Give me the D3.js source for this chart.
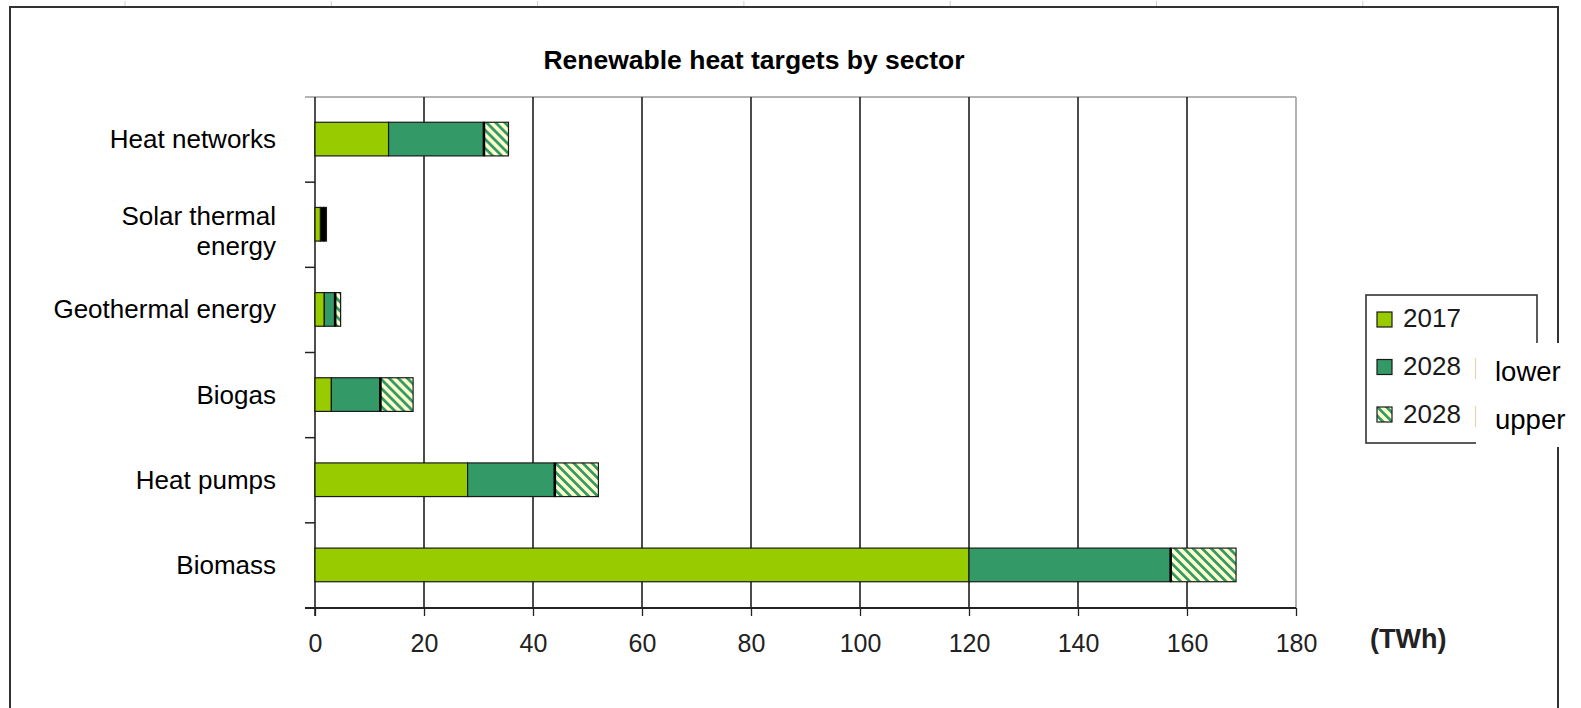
<!DOCTYPE html>
<html>
<head>
<meta charset="utf-8">
<script src="https://cdn.jsdelivr.net/npm/d3@7"></script>
<style>
  body { margin: 0; background: #fff; }
  svg { display: block; font-family: "Liberation Sans", Arial, sans-serif; }
</style>
</head>
<body>
<script>
// ----- data (cumulative TWh) -----
const categories = ["Heat networks", "Solar thermal energy", "Geothermal energy", "Biogas", "Heat pumps", "Biomass"];
const labelLines = [["Heat networks"], ["Solar thermal", "energy"], ["Geothermal energy"], ["Biogas"], ["Heat pumps"], ["Biomass"]];
const val2017 = [13.5, 1.0, 1.7, 3, 28, 120];
const val2028Lower = [31, 1.6, 3.7, 12, 44, 157];
const val2028Upper = [35.5, 2.1, 4.7, 18, 52, 169];
const xTicks = [0, 20, 40, 60, 80, 100, 120, 140, 160, 180];
const legendLabels = ["2017", "2028", "2028"];
const legendTails = ["", "lower", "upper"];

const W = 1581, H = 708;
const plotTop = 97, plotBottom = 608, plotLeft = 315, plotRight = 1296;

const svg = d3.select("body").append("svg")
    .attr("width", W).attr("height", H);

// hatch pattern for the 2028 upper segment
const defs = svg.append("defs");
const pat = defs.append("pattern")
    .attr("id", "hatch")
    .attr("patternUnits", "userSpaceOnUse")
    .attr("width", 6.4).attr("height", 6.4)
    .attr("patternTransform", "rotate(-45)");
pat.append("rect").attr("width", 6.4).attr("height", 6.4).attr("fill", "#ffffcc");
pat.append("rect").attr("width", 2.8).attr("height", 6.4).attr("fill", "#339966");

// outer frame
svg.append("rect")
    .attr("x", 10).attr("y", 7)
    .attr("width", 1548).attr("height", 720)
    .attr("fill", "none").attr("stroke", "#333").attr("stroke-width", 2);
svg.selectAll(".topMark")
    .data(d3.range(7).map(i => 125 + i * 206.3))
    .enter().append("line")
    .attr("x1", d => d).attr("x2", d => d)
    .attr("y1", 1).attr("y2", 6)
    .attr("stroke", "#d0d0d0").attr("stroke-width", 1);

// scales
const x = d3.scaleLinear().domain([0, 180]).range([plotLeft, plotRight]);
const y = d3.scaleBand().domain(categories).range([plotTop, plotBottom]).padding(0);
const barH = y.bandwidth() * 0.395;

// title
svg.append("text")
    .attr("x", 754).attr("y", 69)
    .attr("text-anchor", "middle")
    .attr("font-size", 26.5).attr("font-weight", "bold")
    .text("Renewable heat targets by sector");

// plot border (top) grey
svg.append("line")
    .attr("x1", plotLeft - 10).attr("x2", plotRight)
    .attr("y1", plotTop).attr("y2", plotTop)
    .attr("stroke", "#9a9a9a").attr("stroke-width", 1.5);

// gridlines
svg.selectAll(".grid")
    .data(xTicks.slice(1))
    .enter().append("line")
    .attr("class", "grid")
    .attr("x1", d => x(d)).attr("x2", d => x(d))
    .attr("y1", plotTop).attr("y2", plotBottom)
    .attr("stroke", d => d === 180 ? "#9a9a9a" : "#111")
    .attr("stroke-width", 1.5);

// bottom axis with ticks and labels
const xAxis = svg.append("g")
    .attr("transform", "translate(0," + plotBottom + ")")
    .call(d3.axisBottom(x).tickValues(xTicks).tickSize(8).tickPadding(18).tickSizeOuter(0));
xAxis.select(".domain").remove();
xAxis.selectAll(".tick line").attr("stroke", "#222").attr("stroke-width", 1.3);
xAxis.selectAll(".tick text")
    .attr("font-size", 25).attr("fill", "#222")
    .attr("font-family", "Liberation Sans, Arial, sans-serif");
svg.append("line")
    .attr("x1", plotLeft - 10).attr("x2", plotRight)
    .attr("y1", plotBottom).attr("y2", plotBottom)
    .attr("stroke", "#222").attr("stroke-width", 2.2);

svg.append("text")
    .attr("x", 1370).attr("y", 648)
    .attr("font-size", 27).attr("font-weight", "bold")
    .attr("fill", "#222")
    .text("(TWh)");

// left axis and category boundary ticks
svg.append("line")
    .attr("x1", x(0)).attr("x2", x(0))
    .attr("y1", plotTop).attr("y2", plotBottom + 8)
    .attr("stroke", "#222").attr("stroke-width", 1.6);
svg.selectAll(".catTick")
    .data(categories.slice(1))
    .enter().append("line")
    .attr("x1", x(0) - 10).attr("x2", x(0))
    .attr("y1", d => y(d)).attr("y2", d => y(d))
    .attr("stroke", "#222").attr("stroke-width", 1.5);

// category labels
const labels = svg.selectAll(".catLabel")
    .data(categories)
    .enter().append("text")
    .attr("class", "catLabel")
    .attr("text-anchor", "end")
    .attr("font-size", 26)
    .attr("x", 276)
    .attr("y", d => y(d) + y.bandwidth() / 2);
labels.each(function (d, i) {
    const lines = labelLines[i];
    const t = d3.select(this);
    lines.forEach((ln, j) => {
        t.append("tspan")
            .attr("x", 276)
            .attr("dy", j === 0 ? (lines.length > 1 ? "0em" : "0.33em") : "1.15em")
            .text(ln);
    });
});

// stacked bars
const segs = [];
categories.forEach((c, i) => {
    segs.push({ cat: c, x0: 0, x1: val2017[i], fill: "#99cc00" });
    segs.push({ cat: c, x0: val2017[i], x1: val2028Lower[i], fill: "#339966" });
    segs.push({ cat: c, x0: val2028Lower[i], x1: val2028Upper[i], fill: "url(#hatch)" });
});

// segments too thin to show their fill come out as solid outline colour
svg.selectAll(".bar")
    .data(segs)
    .enter().append("rect")
    .attr("class", "bar")
    .attr("x", d => x(d.x0))
    .attr("width", d => x(d.x1) - x(d.x0))
    .attr("y", d => y(d.cat) + (y.bandwidth() - barH) / 2 - 0.5)
    .attr("height", barH)
    .attr("fill", d => (x(d.x1) - x(d.x0) < 4 && d.x0 > 0) ? "#000" : d.fill)
    .attr("stroke", "#1a1a1a").attr("stroke-width", 1.2);

// heavy separator between 2028 lower and upper
svg.selectAll(".sep")
    .data(categories)
    .enter().append("line")
    .attr("x1", (d, i) => x(val2028Lower[i])).attr("x2", (d, i) => x(val2028Lower[i]))
    .attr("y1", d => y(d) + (y.bandwidth() - barH) / 2 - 0.5)
    .attr("y2", d => y(d) + (y.bandwidth() + barH) / 2 - 0.5)
    .attr("stroke", "#000").attr("stroke-width", 2.6);

// legend
const lg = svg.append("g");
lg.append("rect")
    .attr("x", 1366).attr("y", 295)
    .attr("width", 171).attr("height", 148)
    .attr("fill", "#fff").attr("stroke", "#333").attr("stroke-width", 1.6);
const swFill = ["#99cc00", "#339966", "url(#hatch)"];
legendLabels.forEach((lab, i) => {
    lg.append("rect")
        .attr("x", 1377).attr("y", 312 + i * 47.5)
        .attr("width", 15).attr("height", 15)
        .attr("fill", swFill[i]).attr("stroke", "#1a1a1a").attr("stroke-width", 1.2);
    lg.append("text")
        .attr("x", 1403).attr("y", 327 + i * 48)
        .attr("font-size", 26).attr("fill", "#1a1a1a")
        .text(lab);
});
// white patch over legend's right part with the visible tails
lg.append("rect")
    .attr("x", 1476).attr("y", 343)
    .attr("width", W - 1476).attr("height", 104)
    .attr("fill", "#fff");
legendTails.forEach((t, i) => {
    if (!t) return;
    lg.append("line")
        .attr("x1", 1475.5).attr("x2", 1475.5)
        .attr("y1", 310 + i * 48).attr("y2", 331 + i * 48)
        .attr("stroke", "#e6d6aa").attr("stroke-width", 1.2);
    lg.append("text")
        .attr("x", 1495).attr("y", 332 + i * 48.5)
        .attr("font-size", 27.5).attr("fill", "#000")
        .text(t);
});
</script>
</body>
</html>
